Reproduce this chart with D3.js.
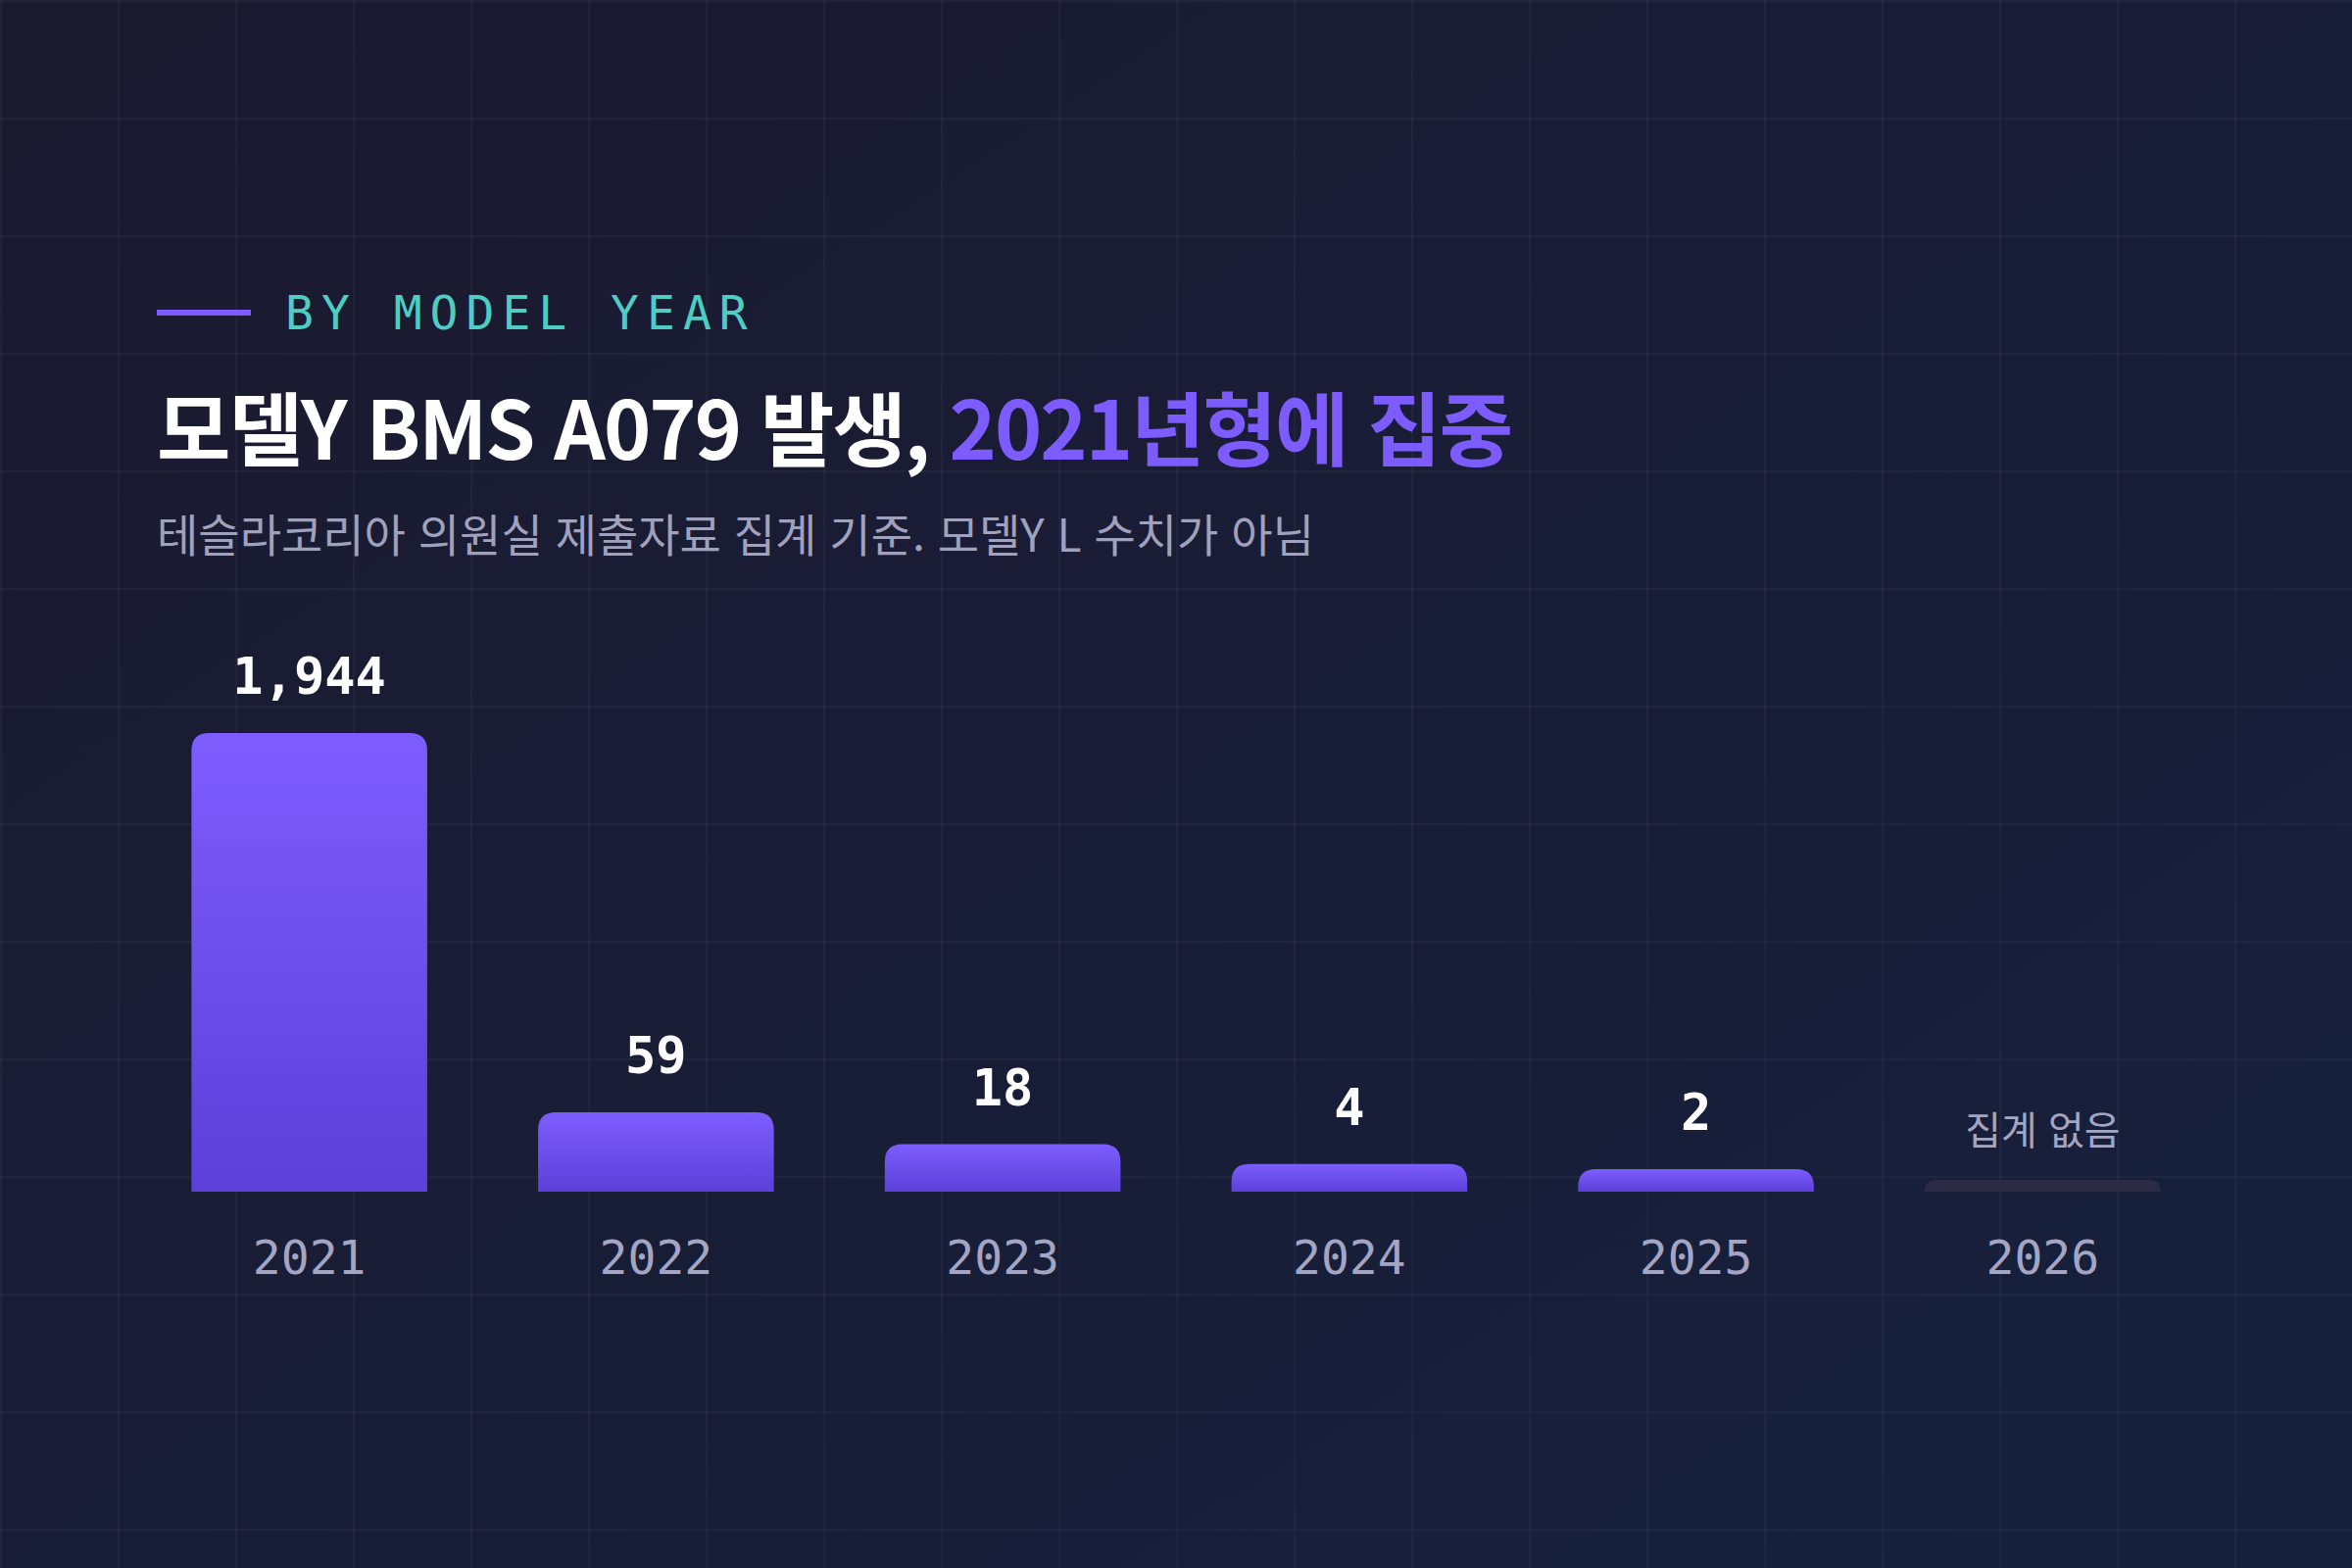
<!DOCTYPE html>
<html lang="ko">
<head>
<meta charset="utf-8">
<script src="https://cdn.jsdelivr.net/npm/d3@7"></script>
<style>
  html, body { margin: 0; padding: 0; background: #1a1a2e; }
  svg { display: block; }
</style>
</head>
<body>
<div id="chart"></div>
<script>
const years = ["2021", "2022", "2023", "2024", "2025", "2026"]
const counts = [1944, 59, 18, 4, 2, null]
const noDataLabel = "집계 없음"

const eyebrow = "BY MODEL YEAR"
const titleMain = "모델Y BMS A079 발생, "
const titleAccent = "2021년형에 집중"
const subtitle = "테슬라코리아 의원실 제출자료 집계 기준. 모델Y L 수치가 아님"

const data = years.map((y, i) => ({ year: y, count: counts[i] }))

const width = 2400
const height = 1600
const baseline = 1216

const kr = "'Noto Sans CJK KR', 'Noto Sans', sans-serif"
const mono = "'DejaVu Sans Mono', 'Liberation Mono', monospace"

const svg = d3.select("#chart")
  .append("svg")
  .attr("width", width)
  .attr("height", height)

const defs = svg.append("defs")

const bg = defs.append("linearGradient")
  .attr("id", "bg")
  .attr("x1", 0).attr("y1", 0).attr("x2", 1).attr("y2", 1)
bg.append("stop").attr("offset", "0%").attr("stop-color", "#1b1a2f")
bg.append("stop").attr("offset", "100%").attr("stop-color", "#16203d")

const barGrad = defs.append("linearGradient")
  .attr("id", "bar")
  .attr("x1", 0).attr("y1", 0).attr("x2", 0).attr("y2", 1)
barGrad.append("stop").attr("offset", "0%").attr("stop-color", "#7d5dfe")
barGrad.append("stop").attr("offset", "100%").attr("stop-color", "#5c40d9")

svg.append("rect")
  .attr("width", width)
  .attr("height", height)
  .attr("fill", "url(#bg)")

// faint background grid
const grid = svg.append("g")
  .attr("stroke", "#ffffff")
  .attr("stroke-opacity", 0.035)
  .attr("stroke-width", 2)
grid.selectAll("line.v")
  .data(d3.range(0, width + 1, 120))
  .join("line")
  .attr("class", "v")
  .attr("x1", d => d + 1).attr("x2", d => d + 1)
  .attr("y1", 0).attr("y2", height)
grid.selectAll("line.h")
  .data(d3.range(0, height + 1, 120))
  .join("line")
  .attr("class", "h")
  .attr("y1", d => d + 1).attr("y2", d => d + 1)
  .attr("x1", 0).attr("x2", width)

// header
svg.append("rect")
  .attr("x", 160).attr("y", 316)
  .attr("width", 96).attr("height", 6)
  .attr("fill", "#7c5cff")

svg.append("text")
  .attr("x", 291).attr("y", 336)
  .attr("font-family", mono)
  .attr("font-size", 48)
  .attr("letter-spacing", 8)
  .attr("fill", "#4ecdc4")
  .text(eyebrow)

const title = svg.append("text")
  .attr("x", 160).attr("y", 469)
  .attr("font-family", kr)
  .attr("font-weight", 700)
  .attr("font-size", 82)
  .attr("letter-spacing", -2)
title.append("tspan").attr("fill", "#ffffff").text(titleMain)
title.append("tspan").attr("fill", "#7c5cff").text(titleAccent)

svg.append("text")
  .attr("x", 160).attr("y", 563)
  .attr("font-family", kr)
  .attr("font-size", 46)
  .attr("fill", "#9fa1bd")
  .text(subtitle)

// scales
const x = d3.scaleBand()
  .domain(years)
  .range([160, 2240])
  .paddingInner(0.32)
  .paddingOuter(0.1)

const y = d3.scalePow()
  .exponent(0.54)
  .domain([0, d3.max(counts)])
  .range([1204, 748])

const topRounded = (x0, y0, w, h, r) => {
  r = Math.min(r, h, w / 2)
  return `M${x0},${y0 + h}V${y0 + r}Q${x0},${y0} ${x0 + r},${y0}` +
    `H${x0 + w - r}Q${x0 + w},${y0} ${x0 + w},${y0 + r}V${y0 + h}Z`
}

const bars = svg.append("g")

bars.selectAll("path")
  .data(data)
  .join("path")
  .attr("d", d => {
    const top = y(d.count ?? 0)
    return topRounded(x(d.year), top, x.bandwidth(), baseline - top, d.count == null ? 14 : 18)
  })
  .attr("fill", d => d.count == null ? "#2c2b45" : "url(#bar)")

bars.selectAll("text.value")
  .data(data)
  .join("text")
  .attr("class", "value")
  .attr("x", d => x(d.year) + x.bandwidth() / 2)
  .attr("y", d => d.count == null ? y(0) - 36 : y(d.count) - 40)
  .attr("text-anchor", "middle")
  .attr("font-family", d => d.count == null ? kr : mono)
  .attr("font-weight", d => d.count == null ? 400 : 700)
  .attr("font-size", d => d.count == null ? 40 : 52)
  .attr("fill", d => d.count == null ? "#a3a5c2" : "#ffffff")
  .text(d => d.count == null ? noDataLabel : d3.format(",")(d.count))

// x axis labels
const xAxis = svg.append("g")
  .attr("transform", `translate(0,${baseline})`)
  .call(d3.axisBottom(x).tickSize(0).tickPadding(0))
xAxis.select(".domain").remove()
xAxis.selectAll("text")
  .attr("dy", null)
  .attr("y", 84)
  .attr("font-family", mono)
  .attr("font-size", 48)
  .attr("fill", "#a3a5c2")
</script>
</body>
</html>
